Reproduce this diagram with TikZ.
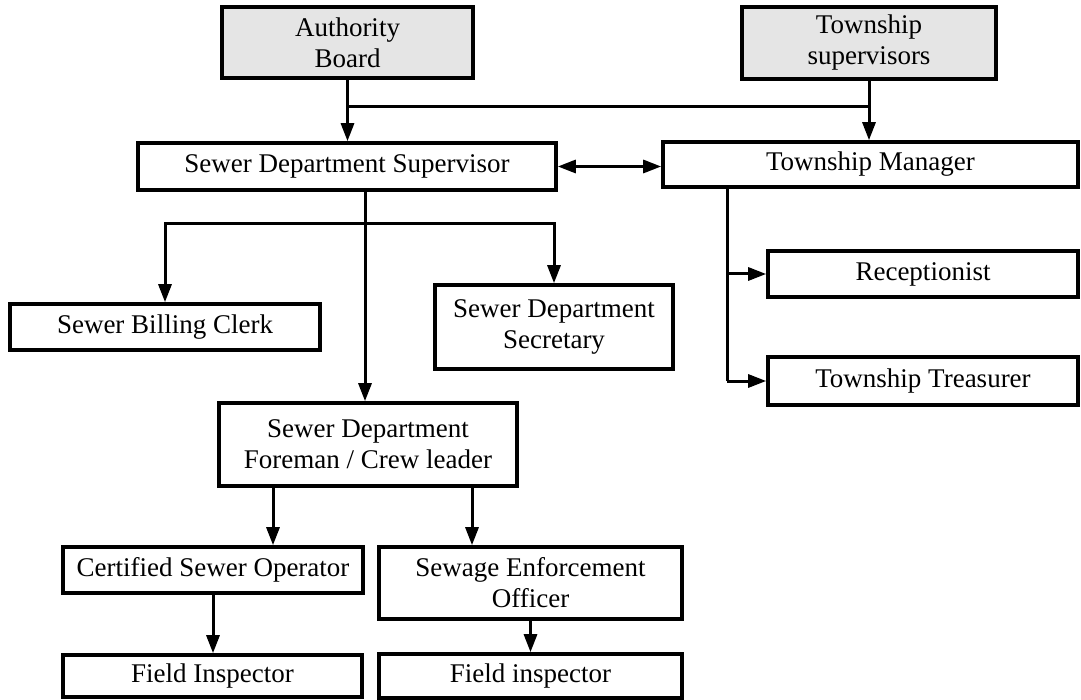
\documentclass[tikz,border=0pt]{standalone}
\usepackage{fontspec}
\setmainfont{Liberation Serif}
\usetikzlibrary{arrows.meta}
\newcommand\boxfont{\fontsize{27}{31}\selectfont}
\tikzset{
  box/.style={draw, line width=3.6pt, inner sep=0pt, align=center, font=\boxfont, fill=white},
  topbox/.style={box, fill=black!10},
  conn/.style={line width=3pt},
  tip/.tip={Triangle[length=18pt,width=13pt]},
  arr/.style={conn, -tip},
  dblarr/.style={conn, tip-tip}
}
\begin{document}
\begin{tikzpicture}[x=1pt, y=-1pt]
\useasboundingbox (0,0) rectangle (1081,700);
% nodes
\node[topbox, minimum width=251pt, minimum height=71pt] (auth) at (347.5,42.5) {Authority\\Board};
\node[topbox, minimum width=254pt, minimum height=72pt] (tsup) at (869,43) {Township\\supervisors};
\node[box, minimum width=418pt, minimum height=47pt] (sds) at (347,166.5) {Sewer Department Supervisor};
\node[box, minimum width=415pt, minimum height=45pt] (tm) at (870.5,164.5) {Township Manager};
\node[box, minimum width=310pt, minimum height=46pt] (bill) at (165,327) {Sewer Billing Clerk};
\node[box, minimum width=238pt, minimum height=84pt] (sec) at (554,327) {Sewer Department\\Secretary};
\node[box, minimum width=298pt, minimum height=83pt] (fore) at (368,444.5) {Sewer Department\\Foreman / Crew leader};
\node[box, minimum width=310pt, minimum height=46pt] (rec) at (923,274) {Receptionist};
\node[box, minimum width=310pt, minimum height=48pt] (tre) at (923,381) {Township Treasurer};
\node[box, minimum width=300pt, minimum height=46pt] (cert) at (213,570) {Certified Sewer Operator};
\node[box, minimum width=303pt, minimum height=72pt] (sew) at (530.5,583) {Sewage Enforcement\\Officer};
\node[box, minimum width=299pt, minimum height=42pt] (fi1) at (212.5,676) {Field Inspector};
\node[box, minimum width=303pt, minimum height=44pt] (fi2) at (530.5,676) {Field inspector};
% junction coordinates
\coordinate (hj) at (347,107);
\coordinate (br) at (365,224);
\coordinate (tmb) at (727,187);
% top connectors
\draw[arr] (auth.south) -- (auth.south |- sds.north);
\draw[arr] (tsup.south) -- (tsup.south |- tm.north);
\draw[conn] (auth.south |- hj) -- (tsup.south |- hj);
\draw[dblarr] (sds.east) -- (sds.east -| tm.west);
% supervisor branches
\draw[arr] (br |- sds.south) -- (br |- fore.north);
\draw[arr] (br) -| (bill.north);
\draw[arr] (br) -| (sec.north);
% township manager branches
\draw[conn] (tmb) -- (tmb |- tre.west);
\draw[arr] (tmb |- rec.west) -- (rec.west);
\draw[arr] (tmb |- tre.west) -- (tre.west);
% foreman branches
\draw[arr] ([xshift=-95pt]fore.south) -- ([xshift=-95pt]fore.south |- cert.north);
\draw[arr] ([xshift=104pt]fore.south) -- ([xshift=104pt]fore.south |- sew.north);
\draw[arr] (cert.south) -- (cert.south |- fi1.north);
\draw[arr] (sew.south) -- (sew.south |- fi2.north);
\end{tikzpicture}
\end{document}
